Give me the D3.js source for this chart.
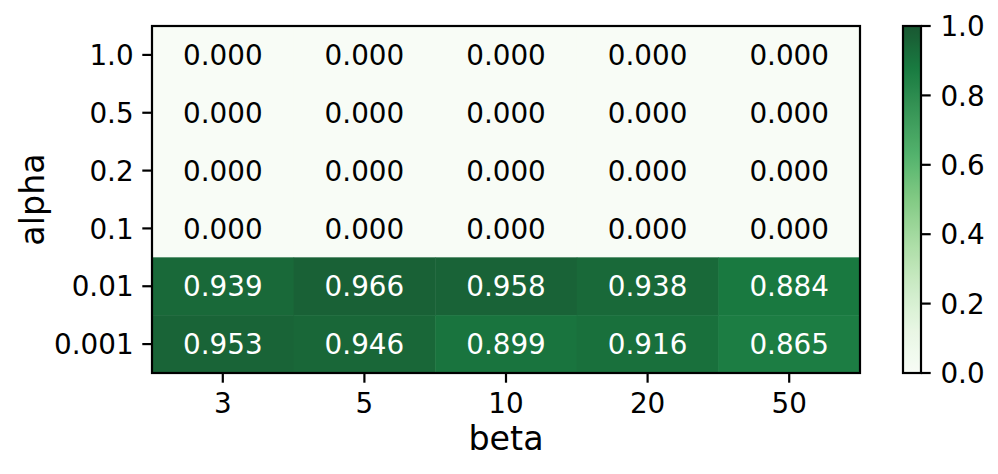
<!DOCTYPE html>
<html>
<head>
<meta charset="utf-8">
<script src="https://cdn.jsdelivr.net/npm/d3@7"></script>
<style>
  body { margin: 0; background: #fff; }
  text { font-family: "DejaVu Sans", sans-serif; }
</style>
</head>
<body>
<svg id="chart" width="998" height="474"></svg>
<script>
// rows top to bottom, columns left to right
const alphas = ["1.0", "0.5", "0.2", "0.1", "0.01", "0.001"]
const betas = ["3", "5", "10", "20", "50"]
const scores = [
  [0.000, 0.000, 0.000, 0.000, 0.000],
  [0.000, 0.000, 0.000, 0.000, 0.000],
  [0.000, 0.000, 0.000, 0.000, 0.000],
  [0.000, 0.000, 0.000, 0.000, 0.000],
  [0.939, 0.966, 0.958, 0.938, 0.884],
  [0.953, 0.946, 0.899, 0.916, 0.865]
]
const cbarTicks = [0.0, 0.2, 0.4, 0.6, 0.8, 1.0]

// matplotlib "Greens" (linear through the colorbrewer stops), drawn at alpha 0.9
const greenStops = ["#f7fcf5", "#e5f5e0", "#c7e9c0", "#a1d99b", "#74c476",
                    "#41ab5d", "#238b45", "#006d2c", "#00441b"]
const greens = d3.scaleLinear()
    .domain(d3.range(greenStops.length).map(i => i / (greenStops.length - 1)))
    .range(greenStops)
    .interpolate(d3.interpolateRgb)
const fillFor = v => {
    const c = d3.rgb(greens(v))
    const a = 0.9
    return d3.rgb(c.r * a + 255 * (1 - a), c.g * a + 255 * (1 - a), c.b * a + 255 * (1 - a)).formatHex()
}

const svg = d3.select("#chart")
const plot = {left: 152, top: 26, right: 860, bottom: 373}
const tickLen = 9.7, pad = 9.7, fs = 27.8

const x = d3.scaleBand().domain(betas).range([plot.left, plot.right])
const y = d3.scaleBand().domain(alphas).range([plot.top, plot.bottom])
const color = d3.scaleLinear().domain([0, 1]).range([plot.bottom, plot.top])

// cells
const cells = []
scores.forEach((row, i) => row.forEach((v, j) => cells.push({a: alphas[i], b: betas[j], v})))

svg.append("g")
    .selectAll("rect")
    .data(cells)
    .enter()
    .append("rect")
    .attr("x", d => x(d.b))
    .attr("y", d => y(d.a))
    .attr("width", x.bandwidth() + 0.5)
    .attr("height", y.bandwidth() + 0.5)
    .attr("fill", d => fillFor(d.v))

svg.append("g")
    .selectAll("text")
    .data(cells)
    .enter()
    .append("text")
    .attr("x", d => x(d.b) + x.bandwidth() / 2)
    .attr("y", d => y(d.a) + y.bandwidth() / 2 + fs * 0.3645)
    .attr("text-anchor", "middle")
    .attr("font-size", fs)
    .attr("fill", d => d.v > 0.5 ? "#ffffff" : "#000000")
    .text(d => d.v.toFixed(3))

// frame
svg.append("rect")
    .attr("x", plot.left).attr("y", plot.top)
    .attr("width", plot.right - plot.left).attr("height", plot.bottom - plot.top)
    .attr("fill", "none").attr("stroke", "#000").attr("stroke-width", 2.2)

// y axis
const yAxis = svg.append("g")
yAxis.selectAll("line")
    .data(alphas)
    .enter()
    .append("line")
    .attr("x1", plot.left - tickLen).attr("x2", plot.left)
    .attr("y1", d => y(d) + y.bandwidth() / 2).attr("y2", d => y(d) + y.bandwidth() / 2)
    .attr("stroke", "#000").attr("stroke-width", 2.2)
yAxis.selectAll("text")
    .data(alphas)
    .enter()
    .append("text")
    .attr("x", plot.left - tickLen - pad + 1)
    .attr("y", d => y(d) + y.bandwidth() / 2 + fs * 0.3645)
    .attr("text-anchor", "end")
    .attr("font-size", fs)
    .text(d => d)

// x axis
const xAxis = svg.append("g")
xAxis.selectAll("line")
    .data(betas)
    .enter()
    .append("line")
    .attr("x1", d => x(d) + x.bandwidth() / 2).attr("x2", d => x(d) + x.bandwidth() / 2)
    .attr("y1", plot.bottom).attr("y2", plot.bottom + tickLen)
    .attr("stroke", "#000").attr("stroke-width", 2.2)
xAxis.selectAll("text")
    .data(betas)
    .enter()
    .append("text")
    .attr("x", d => x(d) + x.bandwidth() / 2)
    .attr("y", plot.bottom + tickLen + pad + fs * 0.729)
    .attr("text-anchor", "middle")
    .attr("font-size", fs)
    .text(d => d)

svg.append("text")
    .attr("x", (plot.left + plot.right) / 2)
    .attr("y", 450)
    .attr("text-anchor", "middle")
    .attr("font-size", 33.3)
    .text("beta")

svg.append("text")
    .attr("transform", `translate(44, ${(plot.top + plot.bottom) / 2}) rotate(-90)`)
    .attr("text-anchor", "middle")
    .attr("font-size", 33.3)
    .text("alpha")

// colorbar
const cb = {left: 903, width: 18}
const defs = svg.append("defs")
const grad = defs.append("linearGradient")
    .attr("id", "cbGrad")
    .attr("x1", 0).attr("y1", 1).attr("x2", 0).attr("y2", 0)
grad.selectAll("stop")
    .data(d3.range(0, 1.0001, 0.02))
    .enter()
    .append("stop")
    .attr("offset", d => d)
    .attr("stop-color", d => fillFor(d))

svg.append("rect")
    .attr("x", cb.left).attr("y", plot.top)
    .attr("width", cb.width).attr("height", plot.bottom - plot.top)
    .attr("fill", "url(#cbGrad)")
    .attr("stroke", "#000").attr("stroke-width", 2.2)

const cAxis = svg.append("g")
cAxis.selectAll("line")
    .data(cbarTicks)
    .enter()
    .append("line")
    .attr("x1", cb.left + cb.width).attr("x2", cb.left + cb.width + tickLen)
    .attr("y1", d => color(d)).attr("y2", d => color(d))
    .attr("stroke", "#000").attr("stroke-width", 2.2)
cAxis.selectAll("text")
    .data(cbarTicks)
    .enter()
    .append("text")
    .attr("x", cb.left + cb.width + tickLen + pad)
    .attr("y", d => color(d) + fs * 0.3645)
    .attr("font-size", fs)
    .text(d => d.toFixed(1))
</script>
</body>
</html>
